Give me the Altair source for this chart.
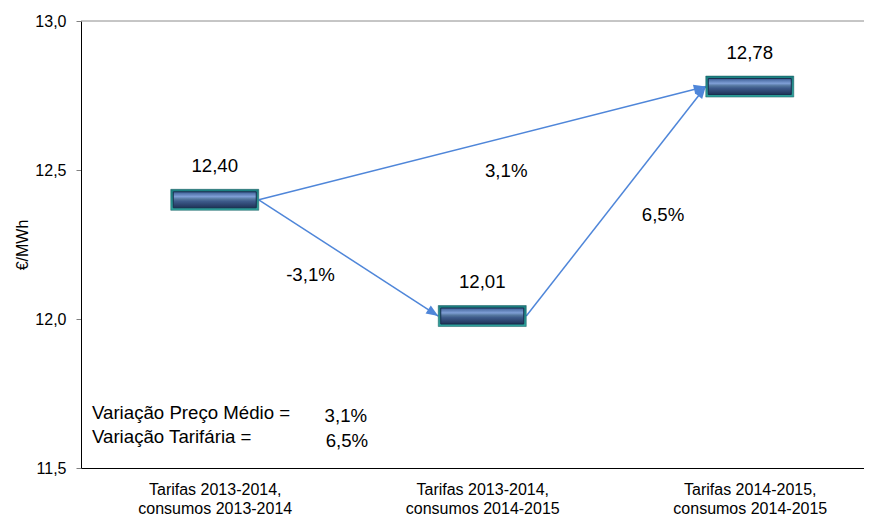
import json
import math
import altair as alt
import pandas as pd

# ---------------- data ----------------
categories = [
    "Tarifas 2013-2014, consumos 2013-2014",
    "Tarifas 2013-2014, consumos 2014-2015",
    "Tarifas 2014-2015, consumos 2014-2015",
]
values = [12.40, 12.01, 12.78]
value_labels = ["12,40", "12,01", "12,78"]
arrow_from = [0, 0, 1]
arrow_to = [1, 2, 2]
arrow_labels = ["-3,1%", "3,1%", "6,5%"]
summary_names = ["Variação Preço Médio =", "Variação Tarifária ="]
summary_values = ["3,1%", "6,5%"]
y_ticks = [11.5, 12.0, 12.5, 13.0]
y_title = "€/MWh"

# ---------------- layout / style ----------------
W, H = 783, 447
X_DOMAIN = [-0.5, 2.427]
Y_DOMAIN = [11.5, 13.0]
PX_X = W / (X_DOMAIN[1] - X_DOMAIN[0])
PX_Y = H / (Y_DOMAIN[1] - Y_DOMAIN[0])
HALF_W = 44 / PX_X
HALF_H = 10.5 / PX_Y
INSET_X = 2.5 / PX_X
INSET_Y = 2.5 / PX_Y
FONT = "Liberation Sans"
ARROW = "#4f86d9"
ANN = 18.67

# bars
bars = pd.DataFrame({"i": range(len(values)), "v": values, "lab": value_labels})
bars["x1"] = bars["i"] - HALF_W
bars["x2"] = bars["i"] + HALF_W
bars["y1"] = bars["v"] - HALF_H
bars["y2"] = bars["v"] + HALF_H
bars["ix1"] = bars["x1"] + INSET_X
bars["ix2"] = bars["x2"] - INSET_X
bars["iy1"] = bars["y1"] + INSET_Y
bars["iy2"] = bars["y2"] - INSET_Y
bars["ly"] = bars["v"] + 34 / PX_Y

# arrows
rows = []
offsets = [(-38, 17), (24, 28), (47, 14)]
for k, (a, b) in enumerate(zip(arrow_from, arrow_to)):
    xa, ya = a + HALF_W, values[a]
    xb, yb = b - HALF_W, values[b]
    ang = math.degrees(math.atan2((xb - xa) * PX_X, (yb - ya) * PX_Y)) % 360
    mx, my = (xa + xb) / 2, (ya + yb) / 2
    rows.append({
        "xa": xa, "ya": ya, "xb": xb, "yb": yb, "angle": ang,
        "lx": mx + offsets[k][0] / PX_X, "ly": my - offsets[k][1] / PX_Y,
        "lab": arrow_labels[k],
    })
arrows = pd.DataFrame(rows)

summary = pd.DataFrame({
    "name": summary_names,
    "val": summary_values,
    "nx": [-0.459, -0.459],
    "ny": [11.685, 11.605],
    "vx": [0.49, 0.494],
    "vy": [11.675, 11.59],
})

# ---------------- scales / axes ----------------
xs = alt.Scale(domain=X_DOMAIN, nice=False, zero=False)
ys = alt.Scale(domain=Y_DOMAIN, nice=False, zero=False)

label_lines = [[c[: c.index(",") + 1], c[c.index(",") + 2:]] for c in categories]
x_axis = alt.Axis(
    values=list(range(len(categories))),
    labelExpr=json.dumps(label_lines, ensure_ascii=False) + "[datum.value]",
    title=None, ticks=False, grid=False, domainColor="black", domainWidth=1,
    labelFont=FONT, labelFontSize=16, labelColor="black", labelPadding=13,
    labelLineHeight=19, labelFlush=False, labelOverlap=False,
)
y_axis = alt.Axis(
    values=y_ticks,
    labelExpr="replace(format(datum.value, '.1f'), '.', ',')",
    title=y_title, titleFont=FONT, titleFontSize=16, titleFontWeight="normal",
    titleColor="black", titlePadding=4,
    grid=False, tickColor="#808080", tickSize=5, domainColor="black",
    labelFont=FONT, labelFontSize=16, labelColor="black", labelPadding=10,
)


def X(f):
    return alt.X(f, type="quantitative", scale=xs, axis=x_axis)


def Y(f):
    return alt.Y(f, type="quantitative", scale=ys, axis=y_axis)


top_line = alt.Chart(pd.DataFrame({"y": [y_ticks[-1]]})).mark_rule(
    color="#8c8c8c", strokeWidth=1
).encode(y=Y("y"))

outer = alt.Chart(bars).mark_rect(
    color=alt.Gradient(
        gradient="linear",
        stops=[
            alt.GradientStop(offset=0, color="#1b7f80"),
            alt.GradientStop(offset=1, color="#2fa39c"),
        ],
        x1=0, x2=0, y1=0, y2=1,
    ),
    stroke="#16595e", strokeWidth=0.5,
).encode(x=X("x1"), x2=alt.X2("x2"), y=Y("y1"), y2=alt.Y2("y2"))

inner = alt.Chart(bars).mark_rect(
    color=alt.Gradient(
        gradient="linear",
        stops=[
            alt.GradientStop(offset=0, color="#3d5f96"),
            alt.GradientStop(offset=0.3, color="#7f9fd6"),
            alt.GradientStop(offset=0.45, color="#55779f"),
            alt.GradientStop(offset=0.6, color="#3d5a8a"),
            alt.GradientStop(offset=1, color="#1f3358"),
        ],
        x1=0, x2=0, y1=0, y2=1,
    ),
    stroke="#1a2e4e", strokeWidth=1,
).encode(x=X("ix1"), x2=alt.X2("ix2"), y=Y("iy1"), y2=alt.Y2("iy2"))

vlabels = alt.Chart(bars).mark_text(
    font=FONT, fontSize=ANN, color="black", baseline="middle", align="center"
).encode(x=X("i"), y=Y("ly"), text="lab:N")

lines = alt.Chart(arrows).mark_rule(color=ARROW, strokeWidth=1.5).encode(
    x=X("xa"), y=Y("ya"), x2=alt.X2("xb"), y2=alt.Y2("yb")
)

heads = alt.Chart(arrows).mark_point(
    shape="M0,0L-0.8,2L0.8,2Z", filled=True, size=144, color=ARROW, opacity=1, strokeWidth=0
).encode(x=X("xb"), y=Y("yb"), angle=alt.Angle("angle:Q", scale=None))

alabels = alt.Chart(arrows).mark_text(
    font=FONT, fontSize=ANN, color="black", baseline="middle", align="center"
).encode(x=X("lx"), y=Y("ly"), text="lab:N")

snames = alt.Chart(summary).mark_text(
    font=FONT, fontSize=ANN, color="black", baseline="middle", align="left"
).encode(x=X("nx"), y=Y("ny"), text="name:N")

svals = alt.Chart(summary).mark_text(
    font=FONT, fontSize=ANN, color="black", baseline="middle", align="center"
).encode(x=X("vx"), y=Y("vy"), text="val:N")

chart = alt.layer(
    top_line, lines, heads, outer, inner, vlabels, alabels, snames, svals
).properties(
    width=W, height=H,
    autosize=alt.AutoSizeParams(type="none"),
    padding={"left": 73, "top": 13, "right": 0, "bottom": 50},
    background="white",
).configure_view(stroke=None)

chart.save("out.html", embed_options={"renderer": "svg", "actions": False})
